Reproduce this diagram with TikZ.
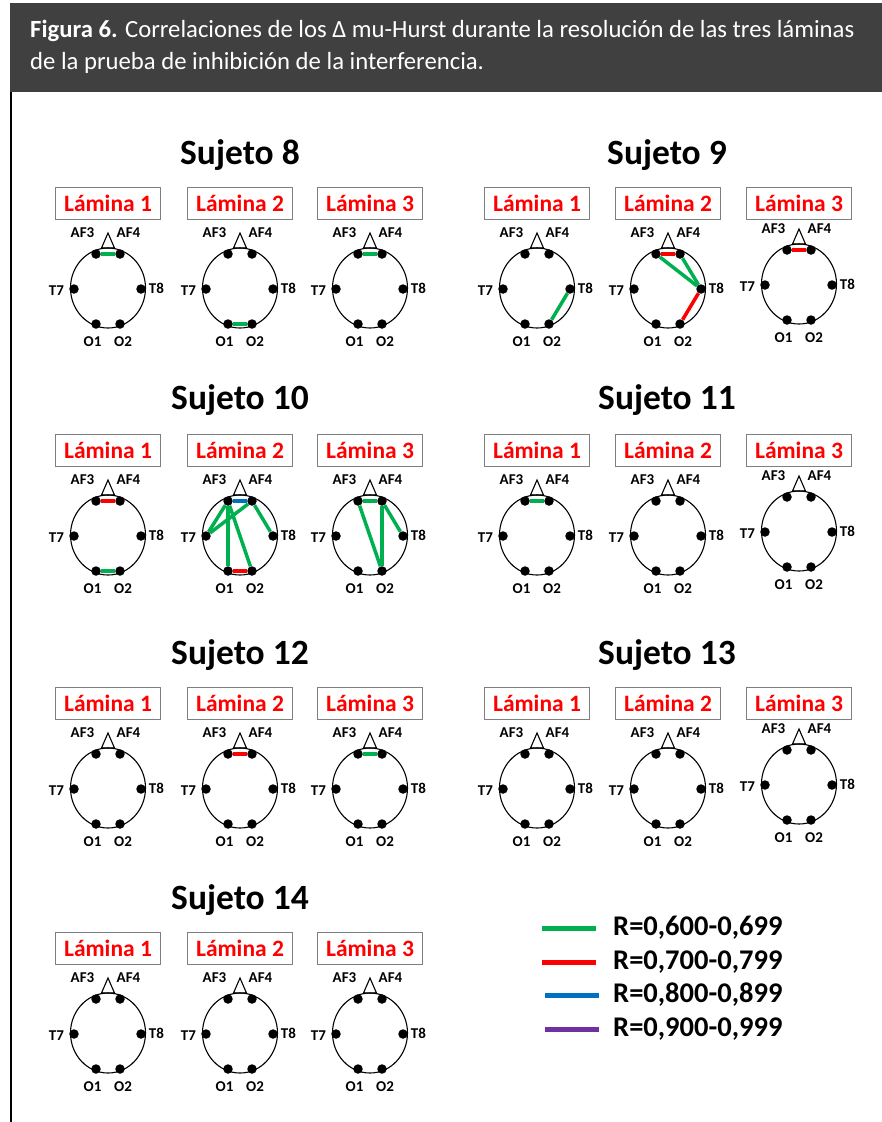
\documentclass[tikz,border=0pt]{standalone}
\usepackage{fontspec}
\setmainfont{Carlito}
\usetikzlibrary{positioning,backgrounds}
\definecolor{verde}{RGB}{0,176,80}
\definecolor{rojo}{RGB}{255,0,0}
\definecolor{azul}{RGB}{0,112,192}
\definecolor{morado}{RGB}{112,48,160}
\definecolor{cab}{RGB}{64,64,64}
\definecolor{marco}{RGB}{127,127,127}

% one head: name, x, y (centre of the head row), head shift, lamina number
\newcommand{\cabeza}[5]{%
  \node [lam] (#1-box) at (#2,#3-85) {Lámina #5};
  \begin{scope}[shift={(#2,#3+#4)}]
    \draw [craneo] (0,0) ellipse [x radius=37.5pt, y radius=40pt];
    \draw [craneo] (-6.5,-40) -- (0,-55) -- (6.5,-40) -- cycle;
    \node [elec] (#1-AF3) at (-12,-34) {};
    \node [elec] (#1-AF4) at (12,-34) {};
    \node [elec] (#1-T7) at (-34,1) {};
    \node [elec] (#1-T8) at (33,1) {};
    \node [elec] (#1-O1) at (-12,36) {};
    \node [elec] (#1-O2) at (12,36) {};
    \node [etq] at (-25.5,-55) {AF3};
    \node [etq] at (20.5,-55) {AF4};
    \node [etq] at (-51.5,3) {T7};
    \node [etq] at (48.5,0.5) {T8};
    \node [etq] at (-15.5,54) {O1};
    \node [etq] at (15,54) {O2};
  \end{scope}}

\begin{document}
\begin{tikzpicture}[
    x=1pt, y=-1pt,
    lam/.style={
        draw=marco, line width=0.9pt, fill=white,
        minimum width=105pt, minimum height=32pt, inner sep=0pt,
        text=rojo, font=\fontsize{23.5}{27}\selectfont\bfseries
    },
    craneo/.style={line width=1.1pt},
    elec/.style={circle, fill=black, minimum size=9.5pt, inner sep=0pt},
    etq/.style={inner sep=0pt, font=\fontsize{15}{18}\selectfont\bfseries},
    suj/.style={inner sep=0pt, font=\fontsize{35.5}{42}\selectfont\bfseries},
    ley/.style={inner sep=0pt, anchor=west, font=\fontsize{28.5}{33}\selectfont\bfseries},
    hdr/.style={inner sep=0pt, anchor=base west, text=white, font=\fontsize{24.7}{28}\selectfont},
    v/.style={verde, line width=3.5pt},
    r/.style={rojo, line width=3.5pt},
    a/.style={azul, line width=3.5pt}
]
\useasboundingbox (0,0) rectangle (882,1122);

% header and frame
\fill [cab] (10,3) rectangle (882,92);
\draw [line width=2pt] (11,92) -- (11,1122);
\node [hdr] (hdr1) at (30,37) {\textbf{Figura 6.} Correlaciones de los Δ mu-Hurst durante la resolución de las tres láminas};
\node [hdr] (hdr2) at (30,69) {de la prueba de inhibición de la interferencia.};

% subjects
\node [suj] (s8) at (240,155) {Sujeto 8};
\node [suj] (s9) at (667,155) {Sujeto 9};
\node [suj] (s10) at (240,400) {Sujeto 10};
\node [suj] (s11) at (667,400) {Sujeto 11};
\node [suj] (s12) at (240,655) {Sujeto 12};
\node [suj] (s13) at (667,655) {Sujeto 13};
\node [suj] (s14) at (240,900) {Sujeto 14};

\foreach \l/\x in {1/108,2/240,3/370} {
    \cabeza{s8l\l}{\x}{288}{0}{\l}
    \cabeza{s10l\l}{\x}{535}{0}{\l}
    \cabeza{s12l\l}{\x}{788}{0}{\l}
    \cabeza{s14l\l}{\x}{1033}{0}{\l}
}
\foreach \l/\x/\dy in {1/537/0,2/668/0,3/799/-4} {
    \cabeza{s9l\l}{\x}{288}{\dy}{\l}
    \cabeza{s11l\l}{\x}{535}{\dy}{\l}
    \cabeza{s13l\l}{\x}{788}{\dy}{\l}
}

% correlations
\begin{pgfonlayer}{background}
\draw [v] (s8l1-AF3) -- (s8l1-AF4);
\draw [v] (s8l2-O1) -- (s8l2-O2);
\draw [v] (s8l3-AF3) -- (s8l3-AF4);

\draw [v] (s9l1-T8) -- (s9l1-O2);
\draw [r] (s9l2-AF3) -- (s9l2-AF4);
\draw [v] (s9l2-AF3) -- (s9l2-T8);
\draw [v] (s9l2-AF4) -- (s9l2-T8);
\draw [r] (s9l2-T8) -- (s9l2-O2);
\draw [r] (s9l3-AF3) -- (s9l3-AF4);

\draw [r] (s10l1-AF3) -- (s10l1-AF4);
\draw [v] (s10l1-O1) -- (s10l1-O2);
\draw [a] (s10l2-AF3) -- (s10l2-AF4);
\draw [v] (s10l2-AF3) -- (s10l2-T7);
\draw [v] (s10l2-AF4) -- (s10l2-T7);
\draw [v] (s10l2-AF3) -- (s10l2-O1);
\draw [v] (s10l2-AF3) -- (s10l2-O2);
\draw [v] (s10l2-AF4) -- (s10l2-T8);
\draw [r] (s10l2-O1) -- (s10l2-O2);
\draw [v] (s10l3-AF3) -- (s10l3-AF4);
\draw [v] (s10l3-AF3) -- (s10l3-O2);
\draw [v] (s10l3-AF4) -- (s10l3-O2);
\draw [v] (s10l3-AF4) -- (s10l3-T8);

\draw [v] (s11l1-AF3) -- (s11l1-AF4);

\draw [r] (s12l2-AF3) -- (s12l2-AF4);
\draw [v] (s12l3-AF3) -- (s12l3-AF4);
\end{pgfonlayer}

% legend
\coordinate (g1a) at (542,928); \coordinate (g1b) at (596,928);
\coordinate (g2a) at (542,962); \coordinate (g2b) at (596,962);
\coordinate (g3a) at (545,995); \coordinate (g3b) at (599,995);
\coordinate (g4a) at (545,1029); \coordinate (g4b) at (599,1029);
\draw [verde, line width=5pt] (g1a) -- (g1b);
\draw [rojo, line width=5pt] (g2a) -- (g2b);
\draw [azul, line width=5pt] (g3a) -- (g3b);
\draw [morado, line width=5pt] (g4a) -- (g4b);
\node [ley, right=17pt of g1b] (l1) {R=0,600-0,699};
\node [ley, right=17pt of g2b] (l2) {R=0,700-0,799};
\node [ley, right=14pt of g3b] (l3) {R=0,800-0,899};
\node [ley, right=14pt of g4b] (l4) {R=0,900-0,999};

\end{tikzpicture}
\end{document}
